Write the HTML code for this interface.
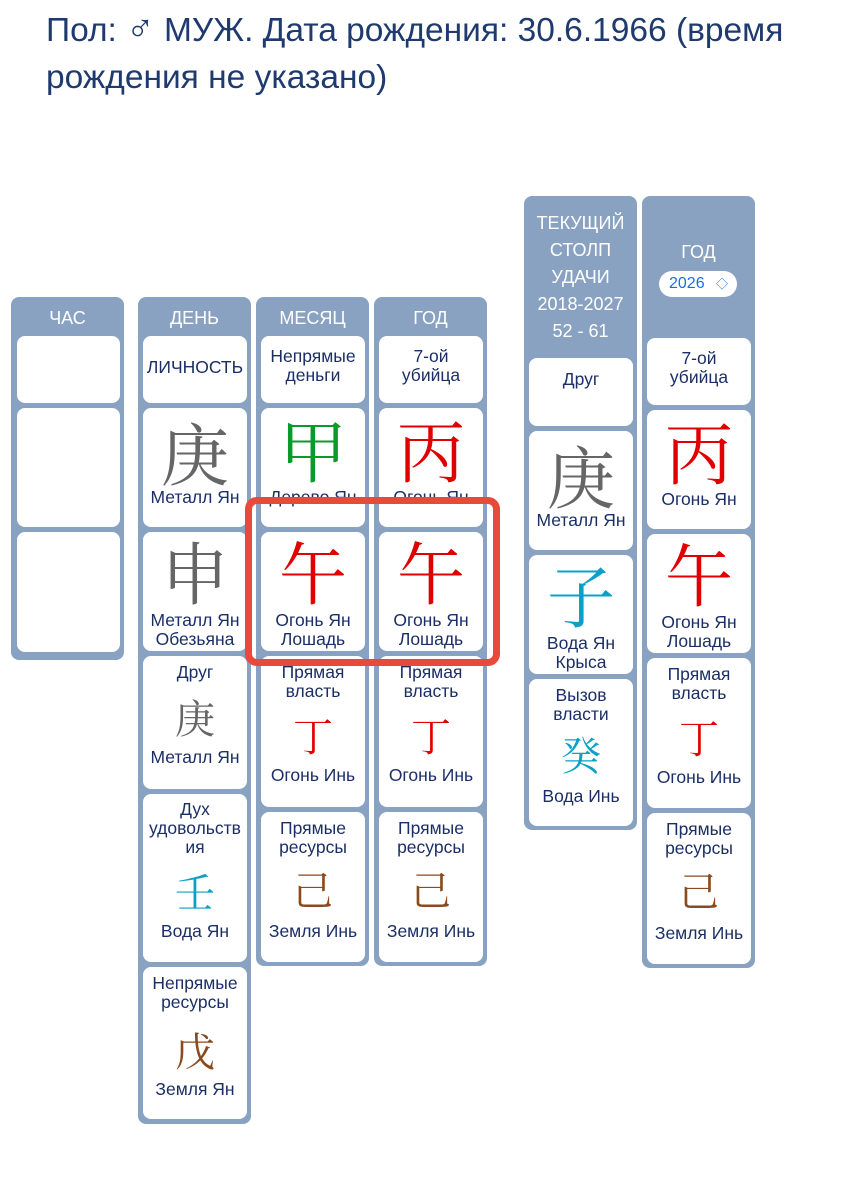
<!DOCTYPE html>
<html><head><meta charset="utf-8"><style>
body{margin:0;width:843px;height:1200px;background:#fff;position:relative;overflow:hidden;font-family:"Liberation Sans","Noto Sans CJK SC",sans-serif;}
.t{position:absolute;left:46px;top:6px;font-size:33.5px;line-height:47px;color:#1f3a6e;width:797px;}
.col{position:absolute;background:#8aa2c2;border-radius:8px;}
.h{position:absolute;color:#fff;font-size:18px;text-align:center;line-height:27px;}
.c{position:absolute;background:#fff;border-radius:8px;color:#1b2f66;font-size:17.5px;text-align:center;line-height:19px;}
.c .s{position:absolute;left:-4px;right:-4px;}
.big{position:absolute;left:0;right:0;font-size:68px;line-height:72px;font-family:"Noto Serif CJK SC",serif;}
.sm{position:absolute;left:0;right:0;font-size:40px;line-height:42px;font-family:"Noto Serif CJK SC",serif;}
.red{color:#e10000}.gr{color:#666}.gn{color:#0a9a2a}.bl{color:#0aa0c8}.br{color:#8b4a1e}
.box{position:absolute;left:245px;top:497px;width:241px;height:155px;border:7px solid #e8493a;border-radius:12px;}
.sel{position:absolute;left:17px;top:75px;width:78px;height:26px;background:#fff;border-radius:13px;color:#1a6fe0;font-size:16px;line-height:26px;text-align:left;padding-left:10px;box-sizing:border-box;}
</style></head><body>
<div class="t">Пол: <span style="font-size:38px">♂</span> МУЖ. Дата рождения: 30.6.1966 (время рождения не указано)</div>

<div class="col" style="left:11px;top:297px;width:113px;height:363px"></div>
<div class="h" style="left:11px;top:305px;width:113px">ЧАС</div>
<div class="c" style="left:17px;top:336px;width:103px;height:67px"></div>
<div class="c" style="left:17px;top:408px;width:103px;height:119px"></div>
<div class="c" style="left:17px;top:532px;width:103px;height:120px"></div>

<div class="col" style="left:138px;top:297px;width:113px;height:827px"></div>
<div class="h" style="left:138px;top:305px;width:113px">ДЕНЬ</div>
<div class="c" style="left:143px;top:336px;width:104px;height:67px"><div class="s" style="top:22px">ЛИЧНОСТЬ</div></div>
<div class="c" style="left:143px;top:408px;width:104px;height:119px"><div class="big gr" style="top:8px">庚</div><div class="s" style="top:80px">Металл Ян</div></div>
<div class="c" style="left:143px;top:532px;width:104px;height:119px"><div class="big gr" style="top:3px">申</div><div class="s" style="top:79px">Металл Ян<br>Обезьяна</div></div>
<div class="c" style="left:143px;top:656px;width:104px;height:133px"><div class="s" style="top:7px">Друг</div><div class="sm gr" style="top:40px">庚</div><div class="s" style="top:92px">Металл Ян</div></div>
<div class="c" style="left:143px;top:794px;width:104px;height:168px"><div class="s" style="top:6px">Дух<br>удовольств<br>ия</div><div class="sm bl" style="top:76px">壬</div><div class="s" style="top:128px">Вода Ян</div></div>
<div class="c" style="left:143px;top:967px;width:104px;height:152px"><div class="s" style="top:7px">Непрямые<br>ресурсы</div><div class="sm br" style="top:62px">戊</div><div class="s" style="top:113px">Земля Ян</div></div>

<div class="col" style="left:256px;top:297px;width:113px;height:669px"></div>
<div class="h" style="left:256px;top:305px;width:113px">МЕСЯЦ</div>
<div class="c" style="left:261px;top:336px;width:104px;height:67px"><div class="s" style="top:11px">Непрямые<br>деньги</div></div>
<div class="c" style="left:261px;top:408px;width:104px;height:119px"><div class="big gn" style="top:5px">甲</div><div class="s" style="top:80px">Дерево Ян</div></div>
<div class="c" style="left:261px;top:532px;width:104px;height:119px"><div class="big red" style="top:3px">午</div><div class="s" style="top:79px">Огонь Ян<br>Лошадь</div></div>
<div class="c" style="left:261px;top:656px;width:104px;height:151px"><div class="s" style="top:7px">Прямая<br>власть</div><div class="sm red" style="top:58px">丁</div><div class="s" style="top:110px">Огонь Инь</div></div>
<div class="c" style="left:261px;top:812px;width:104px;height:150px"><div class="s" style="top:7px">Прямые<br>ресурсы</div><div class="sm br" style="top:56px">己</div><div class="s" style="top:110px">Земля Инь</div></div>

<div class="col" style="left:374px;top:297px;width:113px;height:669px"></div>
<div class="h" style="left:374px;top:305px;width:113px">ГОД</div>
<div class="c" style="left:379px;top:336px;width:104px;height:67px"><div class="s" style="top:11px">7-ой<br>убийца</div></div>
<div class="c" style="left:379px;top:408px;width:104px;height:119px"><div class="big red" style="top:5px">丙</div><div class="s" style="top:80px">Огонь Ян</div></div>
<div class="c" style="left:379px;top:532px;width:104px;height:119px"><div class="big red" style="top:3px">午</div><div class="s" style="top:79px">Огонь Ян<br>Лошадь</div></div>
<div class="c" style="left:379px;top:656px;width:104px;height:151px"><div class="s" style="top:7px">Прямая<br>власть</div><div class="sm red" style="top:58px">丁</div><div class="s" style="top:110px">Огонь Инь</div></div>
<div class="c" style="left:379px;top:812px;width:104px;height:150px"><div class="s" style="top:7px">Прямые<br>ресурсы</div><div class="sm br" style="top:56px">己</div><div class="s" style="top:110px">Земля Инь</div></div>

<div class="box"></div>

<div class="col" style="left:524px;top:196px;width:113px;height:634px"></div>
<div class="h" style="left:524px;top:210px;width:113px">ТЕКУЩИЙ<br>СТОЛП<br>УДАЧИ<br>2018-2027<br>52 - 61</div>
<div class="c" style="left:529px;top:358px;width:104px;height:68px"><div class="s" style="top:12px">Друг</div></div>
<div class="c" style="left:529px;top:431px;width:104px;height:119px"><div class="big gr" style="top:8px">庚</div><div class="s" style="top:80px">Металл Ян</div></div>
<div class="c" style="left:529px;top:555px;width:104px;height:119px"><div class="big bl" style="top:3px">子</div><div class="s" style="top:79px">Вода Ян<br>Крыса</div></div>
<div class="c" style="left:529px;top:679px;width:104px;height:147px"><div class="s" style="top:7px">Вызов<br>власти</div><div class="sm bl" style="top:54px">癸</div><div class="s" style="top:108px">Вода Инь</div></div>

<div class="col" style="left:642px;top:196px;width:113px;height:772px"><div class="sel">2026 <span style="position:absolute;right:9px;font-size:12px">◇</span></div></div>
<div class="h" style="left:642px;top:239px;width:113px">ГОД</div>
<div class="c" style="left:647px;top:338px;width:104px;height:67px"><div class="s" style="top:11px">7-ой<br>убийца</div></div>
<div class="c" style="left:647px;top:410px;width:104px;height:119px"><div class="big red" style="top:5px">丙</div><div class="s" style="top:80px">Огонь Ян</div></div>
<div class="c" style="left:647px;top:534px;width:104px;height:119px"><div class="big red" style="top:3px">午</div><div class="s" style="top:79px">Огонь Ян<br>Лошадь</div></div>
<div class="c" style="left:647px;top:658px;width:104px;height:150px"><div class="s" style="top:7px">Прямая<br>власть</div><div class="sm red" style="top:58px">丁</div><div class="s" style="top:110px">Огонь Инь</div></div>
<div class="c" style="left:647px;top:813px;width:104px;height:151px"><div class="s" style="top:7px">Прямые<br>ресурсы</div><div class="sm br" style="top:56px">己</div><div class="s" style="top:111px">Земля Инь</div></div>
</body></html>
